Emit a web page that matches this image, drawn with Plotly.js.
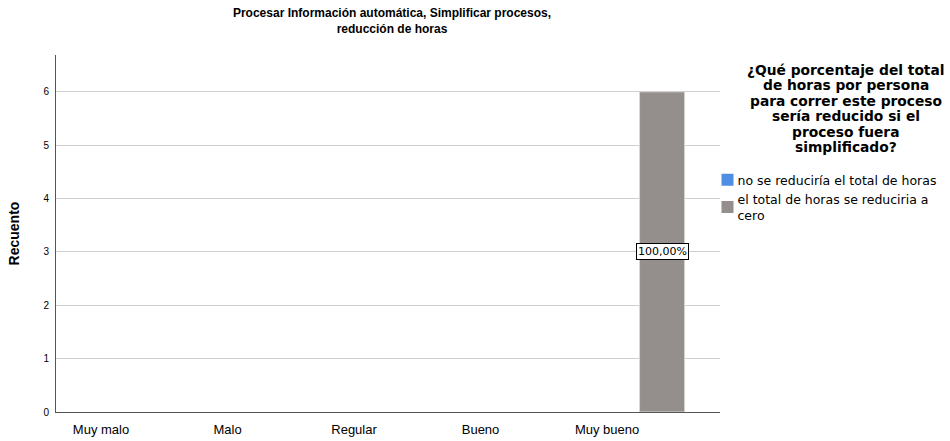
<!DOCTYPE html>
<html>
<head>
<meta charset="utf-8">
<script src="https://cdn.plot.ly/plotly-3.0.1.min.js"></script>
<style>
  html, body { margin: 0; padding: 0; background: #fff; }
  #chart { width: 950px; height: 441px; }
</style>
</head>
<body>
<div id="chart"></div>
<script>
// Rating categories on the x axis
const categories = ["Muy malo", "Malo", "Regular", "Bueno", "Muy bueno"];

// Counts per rating for each answer
const noSeReduciria = [0, 0, 0, 0, 0];
const reduciriaACero = [0, 0, 0, 0, 6];

const seriesNames = [
  "no se reduciría el total de horas",
  "el total de horas se reduciria a<br>cero"
];

// Legend heading, one entry per line
const legendHeading = [
  "¿Qué porcentaje del total",
  "de horas por persona",
  "para correr este proceso",
  "sería reducido si el",
  "proceso fuera",
  "simplificado?"
];

const yTicks = [0, 1, 2, 3, 4, 5, 6];

const font = "Arial, 'Liberation Sans', sans-serif";
const legendFont = "'DejaVu Sans', Verdana, sans-serif";

// Plot frame in pixels
const W = 950, H = 441;
const M = { l: 56, r: 230, t: 55, b: 29 };
const px2paperX = px => (px - M.l) / (W - M.l - M.r);
const px2paperY = py => (H - M.b - py) / (H - M.t - M.b);

const barWidth = 0.356;
const barOffset = 0.257;

const traces = [
  {
    type: "bar",
    name: seriesNames[0],
    x: categories,
    y: noSeReduciria,
    width: barWidth,
    offset: barOffset - barWidth,
    marker: { color: "#4f8fe3", line: { width: 0 } },
    hoverinfo: "skip"
  },
  {
    type: "bar",
    name: seriesNames[1],
    x: categories,
    y: reduciriaACero,
    width: barWidth,
    offset: barOffset,
    marker: {
      color: "#948f8c",
      line: { color: "#d8d6d5", width: reduciriaACero.map(v => (v > 0 ? 1 : 0)) }
    },
    hoverinfo: "skip"
  }
];

// Percentage labels: share of each category's count, placed mid-bar
const annotations = [];
categories.forEach((c, i) => {
  const total = noSeReduciria[i] + reduciriaACero[i];
  if (reduciriaACero[i] > 0) {
    const pct = (reduciriaACero[i] / total * 100).toFixed(2).replace(".", ",") + "%";
    annotations.push({
      x: i + barOffset + barWidth / 2,
      y: reduciriaACero[i] / 2,
      xref: "x", yref: "y",
      text: pct,
      showarrow: false,
      font: { family: legendFont, size: 11, color: "#000" },
      bgcolor: "#ffffff",
      bordercolor: "#000000",
      borderwidth: 1,
      borderpad: 1
    });
  }
});

// Legend heading, centred lines
legendHeading.forEach((line, k) => {
  annotations.push({
    x: px2paperX(846),
    y: px2paperY(70 + k * 15.4),
    xref: "paper", yref: "paper",
    xanchor: "center", yanchor: "middle",
    text: "<b>" + line + "</b>",
    showarrow: false,
    font: { family: legendFont, size: 13.8, color: "#000" }
  });
});

const layout = {
  width: W,
  height: H,
  paper_bgcolor: "#ffffff",
  plot_bgcolor: "#ffffff",
  margin: { l: M.l, r: M.r, t: M.t, b: M.b, pad: 0, autoexpand: false },
  font: { family: font, color: "#000" },
  title: {
    text: "<b>Procesar Información automática, Simplificar procesos,<br>reducción de horas</b>",
    font: { family: font, size: 12, color: "#000" },
    x: 392 / W,
    xanchor: "center",
    y: 1 - 17 / H,
    yanchor: "middle",
    automargin: false
  },
  barmode: "group",
  xaxis: {
    type: "category",
    range: [-0.356, 4.893],
    showgrid: false,
    showline: true,
    linecolor: "#555555",
    linewidth: 1,
    ticks: "",
    ticklabelstandoff: 5,
    tickfont: { family: font, size: 13, color: "#000" },
    zeroline: false,
    fixedrange: true
  },
  yaxis: {
    range: [0, 6.69],
    tickvals: yTicks,
    ticktext: yTicks.map(String),
    showgrid: true,
    gridcolor: "#cfcfcf",
    gridwidth: 1,
    showline: true,
    linecolor: "#555555",
    linewidth: 1,
    ticks: "",
    ticklen: 0,
    ticklabelstandoff: 4,
    tickfont: { family: font, size: 10, color: "#000" },
    zeroline: false,
    title: {
      text: "<b>Recuento</b>",
      font: { family: font, size: 14, color: "#000" },
      standoff: 20
    },
    fixedrange: true
  },
  legend: {
    x: px2paperX(707.5),
    xanchor: "left",
    y: px2paperY(165),
    yanchor: "top",
    bgcolor: "rgba(0,0,0,0)",
    font: { family: legendFont, size: 12.5, color: "#000" },
    tracegroupgap: 0,
    itemwidth: 30
  },
  annotations: annotations,
  showlegend: true
};

Plotly.newPlot("chart", traces, layout, { displayModeBar: false, staticPlot: true }).then(gd => {
  // pull legend labels in tight against their swatches
  gd.querySelectorAll(".legend .legendtext").forEach(t => {
    t.setAttribute("x", 30);
    t.querySelectorAll("tspan.line").forEach(s => s.setAttribute("x", 30));
  });
});
</script>
</body>
</html>
